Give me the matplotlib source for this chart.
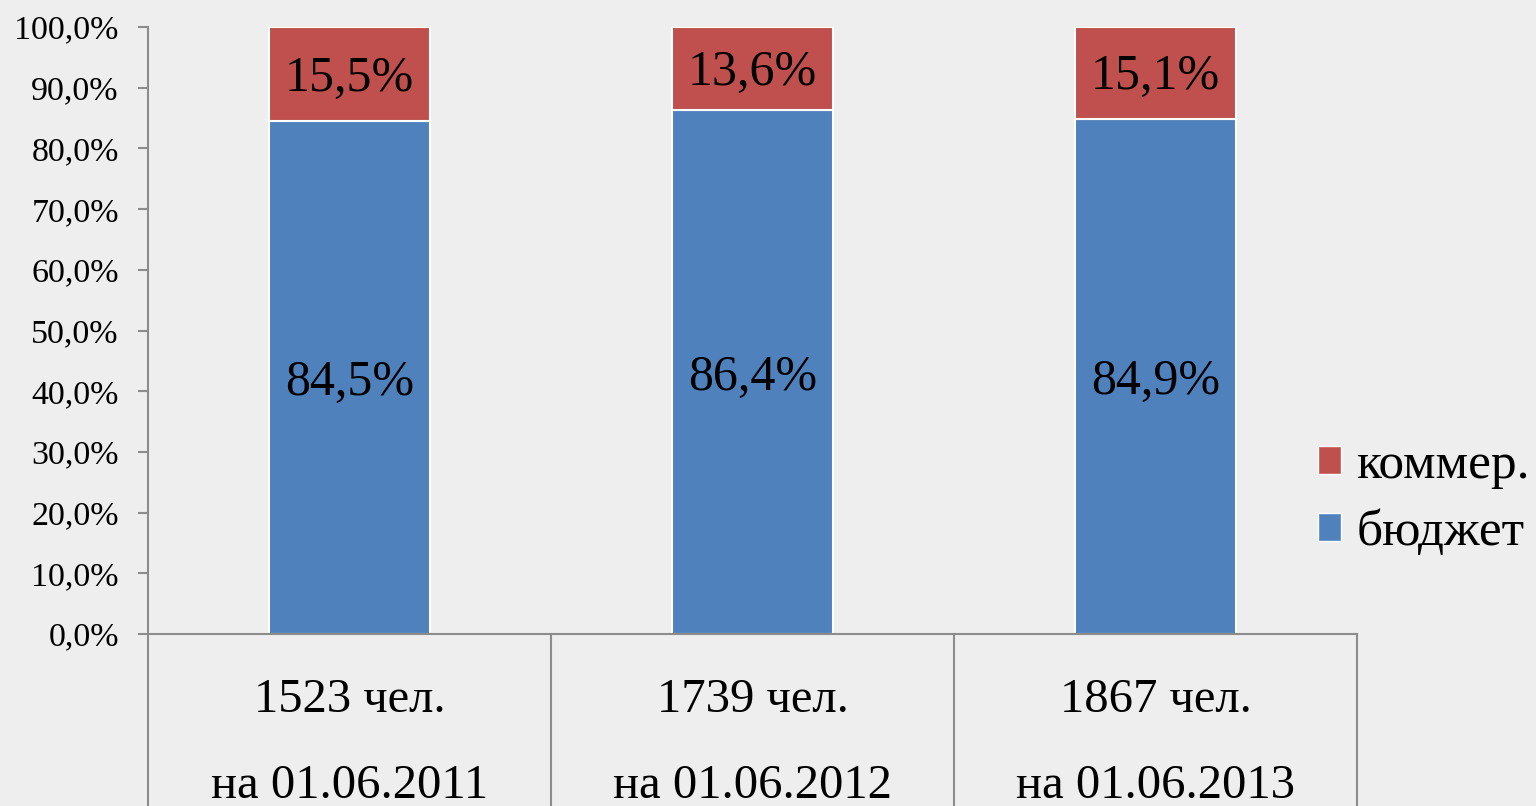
import matplotlib
matplotlib.use("Agg")
import matplotlib.pyplot as plt
from matplotlib.patches import Patch
import numpy as np

# данные
kategorii = ["1523 чел.", "1739 чел.", "1867 чел."]
daty = ["на 01.06.2011", "на 01.06.2012", "на 01.06.2013"]
byudzhet = [84.5, 86.4, 84.9]
kommer = [15.5, 13.6, 15.1]
y_ticks = [0, 10, 20, 30, 40, 50, 60, 70, 80, 90, 100]

SINIY = "#4f81bd"
KRASNIY = "#c0504d"
SERIY = "#8c8c8c"
FON = "#eeeeee"

plt.rcParams["font.family"] = ["Liberation Serif", "DejaVu Serif"]


def proc(v):
    return f"{v:.1f}%".replace(".", ",")


fig = plt.figure(figsize=(15.36, 8.06), dpi=100, facecolor=FON)
ax = fig.add_axes([148 / 1536, 172 / 806, (1357 - 148) / 1536, (634 - 27) / 806])
ax.set_facecolor(FON)

x = np.arange(len(kategorii))
shirina = 0.4
ax.bar(x, byudzhet, shirina, color=SINIY, edgecolor="white", linewidth=1.5, label="бюджет")
ax.bar(x, kommer, shirina, bottom=byudzhet, color=KRASNIY, edgecolor="white", linewidth=1.5, label="коммер.")

# подписи значений в центре сегментов
for i in range(len(x)):
    ax.annotate(proc(byudzhet[i]), (x[i], byudzhet[i] / 2), xytext=(0, -4), textcoords="offset points",
                ha="center", va="center", fontsize=36)
    ax.annotate(proc(kommer[i]), (x[i], byudzhet[i] + kommer[i] / 2), xytext=(0, -3), textcoords="offset points",
                ha="center", va="center", fontsize=36)

ax.set_xlim(-0.5, len(x) - 0.5)
ax.set_ylim(0, 100)
ax.set_yticks(y_ticks)
ax.set_yticklabels([proc(v) for v in y_ticks])
ax.tick_params(axis="y", direction="out", length=7, width=1.5, color=SERIY, pad=14, labelsize=24.5)
ax.set_xticks([])

for s in ["top", "right"]:
    ax.spines[s].set_visible(False)
for s in ["left", "bottom"]:
    ax.spines[s].set_color(SERIY)
    ax.spines[s].set_linewidth(1.5)

# подписи категорий и разделители под осью
trans = ax.get_xaxis_transform()
for i in range(len(x)):
    ax.text(x[i], -0.1285, kategorii[i], transform=trans, ha="center", va="baseline", fontsize=35)
    ax.text(x[i], -0.270, daty[i], transform=trans, ha="center", va="baseline", fontsize=35)
for g in np.arange(len(x) + 1) - 0.5:
    ax.plot([g, g], [0, -0.4], transform=trans, color=SERIY, linewidth=1.5, clip_on=False)

ruchki = [Patch(facecolor=KRASNIY, edgecolor="white", label="коммер."),
          Patch(facecolor=SINIY, edgecolor="white", label="бюджет")]
fig.legend(handles=ruchki, loc="center left", bbox_to_anchor=(1318 / 1536, 0.380),
           frameon=False, fontsize=37, handlelength=0.45, handleheight=0.45,
           handletextpad=0.3, labelspacing=0.4, borderpad=0, borderaxespad=0)

fig.savefig("out.png", dpi=100, facecolor=FON)
